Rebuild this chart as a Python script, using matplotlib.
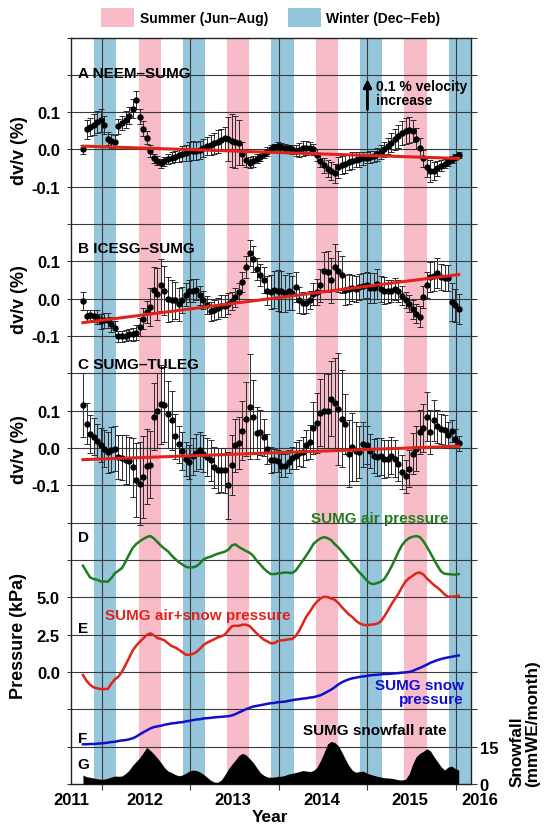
import numpy as np
import matplotlib
matplotlib.use("Agg")
import matplotlib.pyplot as plt
from matplotlib import transforms
from matplotlib.patches import Rectangle

plt.rcParams['font.family'] = ['Liberation Sans', 'DejaVu Sans']
plt.rcParams['font.weight'] = 'bold'

# sample dates (decimal years), shared by all series
dates = [2011.79, 2011.83, 2011.87, 2011.91, 2011.95, 2011.99,
         2012.03, 2012.07, 2012.11, 2012.15, 2012.19, 2012.23, 2012.27, 2012.31, 2012.35,
         2012.39, 2012.43, 2012.47, 2012.51, 2012.55, 2012.59, 2012.63, 2012.67, 2012.71, 2012.75,
         2012.79, 2012.83, 2012.87, 2012.91, 2012.95, 2012.99,
         2013.03, 2013.07, 2013.11, 2013.15, 2013.19, 2013.23, 2013.27, 2013.31, 2013.35,
         2013.39, 2013.43, 2013.47, 2013.51, 2013.55, 2013.59, 2013.63, 2013.67, 2013.71, 2013.75,
         2013.79, 2013.83, 2013.87, 2013.91, 2013.95, 2013.99,
         2014.03, 2014.07, 2014.11, 2014.15, 2014.19, 2014.23, 2014.27, 2014.31, 2014.35,
         2014.39, 2014.43, 2014.47, 2014.51, 2014.55, 2014.59, 2014.63, 2014.67, 2014.71, 2014.75,
         2014.79, 2014.83, 2014.87, 2014.91, 2014.95, 2014.99,
         2015.03, 2015.07, 2015.11, 2015.15, 2015.19, 2015.23, 2015.27, 2015.31, 2015.35,
         2015.39, 2015.43, 2015.47, 2015.51, 2015.55, 2015.59, 2015.63, 2015.67, 2015.71, 2015.75,
         2015.79, 2015.83, 2015.87, 2015.91, 2015.95, 2015.99, 2016.03]

# dv/v (%) NEEM-SUMG
dv_a = [0.0, 0.054, 0.060, 0.066, 0.073, 0.078, 0.066, 0.029, 0.023, 0.02,
        0.062, 0.071, 0.08, 0.091, 0.109, 0.133, 0.088, 0.056, 0.032, -0.004,
        -0.023, -0.03, -0.037, -0.032, -0.026, -0.022, -0.019, -0.015, -0.011, -0.009,
        -0.005, -0.003, -0.004, -0.001, 0.004, 0.009, 0.012, 0.017, 0.021, 0.026,
        0.03, 0.028, 0.024, 0.021, 0.018, -0.011, -0.027, -0.035, -0.032, -0.025,
        -0.019, -0.012, -0.006, 0.002, 0.006, 0.009, 0.007, 0.005, 0.003, 0.0,
        -0.003, -0.001, 0.003, 0.004, 0.004, 0.0, -0.015, -0.03, -0.042, -0.051,
        -0.058, -0.064, -0.048, -0.042, -0.038, -0.034, -0.03, -0.028, -0.026, -0.024,
        -0.022, -0.02, -0.018, -0.013, -0.007, 0.001, 0.009, 0.018, 0.027, 0.035,
        0.043, 0.05, 0.053, 0.05, 0.029, 0.005, -0.024, -0.048, -0.058, -0.058,
        -0.05, -0.044, -0.038, -0.033, -0.027, -0.019, -0.014]
err_a = [0.012, 0.025, 0.025, 0.028, 0.03, 0.03, 0.025, 0.018, 0.018, 0.018,
         0.02, 0.02, 0.022, 0.022, 0.025, 0.025, 0.02, 0.02, 0.018, 0.015,
         0.012, 0.012, 0.012, 0.012, 0.013, 0.015, 0.015, 0.018, 0.02, 0.022,
         0.025, 0.025, 0.025, 0.025, 0.025, 0.025, 0.028, 0.028, 0.03, 0.03,
         0.03, 0.06, 0.07, 0.07, 0.06, 0.03, 0.02, 0.015, 0.015, 0.012,
         0.012, 0.012, 0.012, 0.01, 0.01, 0.01, 0.01, 0.01, 0.01, 0.012,
         0.015, 0.018, 0.02, 0.02, 0.015, 0.015, 0.015, 0.018, 0.02, 0.022,
         0.025, 0.025, 0.028, 0.025, 0.025, 0.022, 0.022, 0.02, 0.02, 0.018,
         0.015, 0.015, 0.015, 0.018, 0.018, 0.02, 0.022, 0.025, 0.028, 0.03,
         0.032, 0.035, 0.035, 0.03, 0.028, 0.025, 0.022, 0.025, 0.03, 0.025,
         0.02, 0.015, 0.012, 0.01, 0.01, 0.008, 0.008]
trend_a = [0.009, -0.024]

# dv/v (%) ICESG-SUMG
dv_b = [-0.006, -0.046, -0.044, -0.046, -0.049, -0.06, -0.057, -0.058, -0.068, -0.079,
        -0.1, -0.101, -0.099, -0.095, -0.095, -0.091, -0.076, -0.054, -0.035, -0.022,
        0.024, 0.013, 0.036, 0.022, -0.001, -0.004, -0.004, -0.015, -0.003, 0.011,
        0.021, 0.022, 0.024, 0.009, -0.003, -0.017, -0.034, -0.03, -0.025, -0.02,
        -0.02, -0.013, -0.006, 0.004, 0.018, 0.045, 0.085, 0.123, 0.107, 0.08,
        0.063, 0.051, 0.022, 0.018, 0.024, 0.022, 0.02, 0.015, 0.02, 0.015,
        0.031, -0.003, -0.011, -0.012, -0.003, 0.013, 0.019, 0.036, 0.074, 0.072,
        0.049, 0.086, 0.074, 0.065, 0.024, 0.026, 0.029, 0.027, 0.031, 0.034,
        0.036, 0.03, 0.03, 0.039, 0.027, 0.022, 0.02, 0.021, 0.026, 0.021,
        0.008, -0.003, -0.013, -0.028, -0.04, -0.048, 0.004, 0.036, 0.058, 0.06,
        0.069, 0.058, 0.055, 0.056, -0.009, -0.018, -0.027]
err_b = [0.025, 0.015, 0.015, 0.015, 0.018, 0.02, 0.02, 0.02, 0.02, 0.02,
         0.015, 0.015, 0.015, 0.015, 0.018, 0.02, 0.025, 0.028, 0.03, 0.05,
         0.06, 0.07, 0.07, 0.065, 0.06, 0.055, 0.05, 0.045, 0.035, 0.03,
         0.03, 0.03, 0.028, 0.025, 0.025, 0.025, 0.025, 0.028, 0.028, 0.03,
         0.03, 0.028, 0.025, 0.025, 0.025, 0.028, 0.03, 0.035, 0.035, 0.03,
         0.03, 0.035, 0.04, 0.045, 0.05, 0.055, 0.055, 0.05, 0.05, 0.045,
         0.04, 0.035, 0.03, 0.025, 0.025, 0.03, 0.035, 0.045, 0.05, 0.055,
         0.06, 0.06, 0.055, 0.05, 0.04, 0.04, 0.035, 0.035, 0.035, 0.035,
         0.035, 0.04, 0.04, 0.04, 0.035, 0.035, 0.03, 0.03, 0.03, 0.03,
         0.025, 0.022, 0.022, 0.025, 0.025, 0.028, 0.03, 0.035, 0.04, 0.04,
         0.04, 0.035, 0.035, 0.035, 0.05, 0.045, 0.04]
trend_b = [-0.064, 0.065]

# dv/v (%) SUMG-TULEG
dv_c = [0.116, 0.065, 0.038, 0.031, 0.019, 0.008, -0.002, -0.011, -0.004, -0.002,
        -0.024, -0.026, -0.031, -0.035, -0.052, -0.086, -0.095, -0.077, -0.049, -0.045,
        0.084, 0.1, 0.117, 0.116, 0.09, 0.074, 0.032, 0.01, -0.008, -0.03,
        -0.037, -0.022, -0.012, -0.006, -0.015, -0.024, -0.033, -0.052, -0.06, -0.059,
        -0.06, -0.1, -0.046, 0.007, 0.014, 0.047, 0.078, 0.111, 0.083, 0.04,
        0.042, 0.029, -0.002, -0.031, -0.033, -0.035, -0.047, -0.047, -0.036, -0.026,
        -0.02, -0.013, -0.01, 0.009, 0.016, 0.053, 0.068, 0.095, 0.1, 0.099,
        0.132, 0.121, 0.105, 0.078, 0.065, -0.015, 0.003, -0.009, -0.011, 0.01,
        0.008, -0.008, -0.022, -0.024, -0.022, -0.029, -0.028, -0.02, -0.028, -0.044,
        -0.064, -0.076, -0.055, -0.015, -0.002, 0.043, 0.054, 0.084, 0.043, 0.074,
        0.058, 0.052, 0.049, 0.034, 0.045, 0.025, 0.013]
err_c = [0.085, 0.055, 0.05, 0.05, 0.045, 0.045, 0.05, 0.055, 0.06, 0.06,
         0.06, 0.06, 0.065, 0.065, 0.08, 0.1, 0.11, 0.11, 0.1, 0.09,
         0.09, 0.1, 0.105, 0.1, 0.09, 0.08, 0.06, 0.05, 0.05, 0.045,
         0.045, 0.05, 0.05, 0.05, 0.05, 0.05, 0.055, 0.055, 0.06, 0.06,
         0.06, 0.09, 0.08, 0.07, 0.07, 0.08, 0.1, 0.14, 0.1, 0.07,
         0.06, 0.05, 0.04, 0.035, 0.03, 0.03, 0.03, 0.03, 0.03, 0.03,
         0.035, 0.035, 0.04, 0.04, 0.045, 0.07, 0.08, 0.09, 0.1, 0.1,
         0.1, 0.12, 0.15, 0.13, 0.08, 0.09, 0.09, 0.08, 0.07, 0.06,
         0.05, 0.045, 0.045, 0.05, 0.05, 0.05, 0.05, 0.05, 0.05, 0.045,
         0.045, 0.045, 0.05, 0.055, 0.06, 0.06, 0.065, 0.065, 0.06, 0.055,
         0.045, 0.04, 0.04, 0.035, 0.03, 0.025, 0.02]
trend_c = [-0.031, 0.005]

# pressures (kPa, on the shared display scale)
air_p = [7.12, 6.72, 6.34, 6.23, 6.18, 6.07, 6.07, 6.05, 6.29, 6.61,
         6.79, 6.96, 7.39, 7.86, 8.3, 8.57, 8.75, 8.91, 9.04, 9.11,
         8.95, 8.71, 8.46, 8.26, 8.08, 7.81, 7.57, 7.37, 7.21, 7.05,
         7.01, 7.01, 7.08, 7.28, 7.54, 7.66, 7.72, 7.83, 7.92, 7.99,
         8.06, 8.19, 8.48, 8.55, 8.37, 8.24, 8.1, 7.99, 7.79, 7.46,
         7.21, 6.94, 6.72, 6.56, 6.56, 6.61, 6.63, 6.67, 6.65, 6.63,
         6.79, 7.12, 7.46, 7.81, 8.17, 8.57, 8.79, 8.95, 9.04, 8.97,
         8.84, 8.57, 8.35, 8.08, 7.79, 7.52, 7.23, 6.96, 6.67, 6.43,
         6.14, 5.94, 5.89, 5.96, 6.05, 6.23, 6.61, 7.05, 7.54, 8.06,
         8.5, 8.79, 8.97, 9.06, 9.11, 9.04, 8.77, 8.39, 7.97, 7.54,
         7.12, 6.74, 6.58, 6.56, 6.54, 6.52, 6.56]
air_snow_p = [-0.2, -0.58, -0.85, -1.03, -1.09, -1.14, -1.14, -1.14, -0.78, -0.49,
              -0.31, 0.02, 0.47, 0.94, 1.43, 1.76, 2.01, 2.25, 2.48, 2.59,
              2.46, 2.28, 2.21, 2.12, 1.92, 1.74, 1.65, 1.5, 1.34, 1.16,
              1.16, 1.21, 1.34, 1.56, 1.81, 1.96, 2.08, 2.19, 2.32, 2.39,
              2.5, 2.79, 3.06, 3.1, 3.1, 3.17, 3.17, 3.08, 2.83, 2.59,
              2.37, 2.17, 2.05, 1.92, 1.94, 2.08, 2.12, 2.14, 2.19, 2.21,
              2.41, 2.77, 3.24, 3.71, 4.04, 4.42, 4.71, 4.93, 5.04, 5.02,
              4.93, 4.84, 4.64, 4.35, 4.11, 3.86, 3.68, 3.44, 3.26, 3.17,
              3.13, 3.17, 3.19, 3.24, 3.39, 3.73, 4.11, 4.53, 4.89, 5.25,
              5.69, 6.07, 6.29, 6.45, 6.61, 6.67, 6.54, 6.27, 6.05, 5.83,
              5.65, 5.45, 5.2, 5.04, 5.04, 5.07, 5.11]
snow_p = [-4.84, -4.84, -4.82, -4.82, -4.8, -4.78, -4.76, -4.73, -4.69, -4.67,
          -4.62, -4.58, -4.56, -4.51, -4.44, -4.33, -4.18, -4.04, -3.91, -3.78,
          -3.69, -3.64, -3.6, -3.53, -3.49, -3.44, -3.42, -3.38, -3.36, -3.31,
          -3.27, -3.22, -3.18, -3.16, -3.11, -3.09, -3.07, -3.04, -3.02, -3.0,
          -2.98, -2.96, -2.91, -2.82, -2.71, -2.6, -2.49, -2.4, -2.31, -2.27,
          -2.22, -2.18, -2.13, -2.09, -2.07, -2.02, -2.0, -1.98, -1.93, -1.89,
          -1.84, -1.82, -1.78, -1.76, -1.71, -1.69, -1.62, -1.56, -1.44, -1.31,
          -1.18, -1.02, -0.84, -0.69, -0.58, -0.49, -0.42, -0.38, -0.33, -0.29,
          -0.27, -0.22, -0.2, -0.18, -0.16, -0.13, -0.13, -0.11, -0.09, -0.07,
          -0.04, -0.02, 0.0, 0.07, 0.18, 0.27, 0.38, 0.49, 0.62, 0.71,
          0.8, 0.87, 0.93, 0.98, 1.02, 1.07, 1.11]
# snowfall rate (mmWE/month)
snowfall = [3.6, 2.9, 2.7, 2.4, 2.1, 1.9, 2.0, 2.3, 2.8, 3.2,
            3.1, 3.2, 4.2, 5.5, 7.5, 9.0, 10.6, 12.6, 14.7, 13.5,
            12.1, 10.4, 8.6, 6.6, 5.2, 4.6, 3.8, 3.3, 3.6, 4.3,
            5.2, 5.6, 5.4, 4.8, 3.9, 2.7, 1.5, 0.8, 0.7, 1.6,
            3.6, 6.0, 7.9, 9.6, 11.5, 12.3, 11.7, 10.2, 8.7, 6.6,
            4.6, 3.5, 2.8, 2.7, 2.8, 3.1, 3.1, 3.5, 4.0, 4.3,
            4.6, 5.0, 5.4, 5.2, 5.0, 5.4, 6.7, 9.4, 12.6, 16.1,
            17.1, 16.7, 15.4, 12.9, 10.0, 7.4, 5.5, 4.7, 5.0, 5.2,
            4.4, 3.9, 3.5, 3.1, 2.8, 2.5, 2.4, 2.3, 2.0, 1.7,
            1.6, 1.9, 4.0, 8.0, 11.0, 12.3, 13.1, 14.2, 13.3, 11.0,
            9.0, 7.0, 5.6, 6.8, 7.2, 6.2, 5.6]

year_lines = [2012, 2013, 2014, 2015, 2016]
summer_years = [2012, 2013, 2014, 2015]
winter_years = [2012, 2013, 2014, 2015, 2016]
year_labels = ['2011', '2012', '2013', '2014', '2015', '2016']
left_labels = {3: '0.0', 4: '2.5', 5: '5.0',
               8: '-0.1', 9: '0.0', 10: '0.1',
               12: '-0.1', 13: '0.0', 14: '0.1',
               16: '-0.1', 17: '0.0', 18: '0.1'}

pink = '#f8bcc8'
blue = '#95c6dc'
grid_c = '#3a3a3a'

t = np.array(dates)
W, H = 544, 829
fig = plt.figure(figsize=(W / 100, H / 100), dpi=100)
ax = fig.add_axes([71 / W, 44 / H, (470.7 - 71) / W, (785 - 38.5) / H])
x0, x1 = 2011.655, 2016.165
ax.set_xlim(x0, x1)
ax.set_ylim(0, 20)

for y in summer_years:
    ax.axvspan(y + 5 / 12, y + 8 / 12, color=pink, lw=0, zorder=0)
for y in winter_years:
    ax.axvspan(y - 1 / 12, y + 2 / 12, color=blue, lw=0, zorder=0)
for y in range(1, 20):
    ax.axhline(y, color=grid_c, lw=0.8, zorder=1)
for y in year_lines:
    ax.axvline(y, color=grid_c, lw=0.8, zorder=1)

# dv/v panels
for dv, err, tr, base in [(dv_a, err_a, trend_a, 17), (dv_b, err_b, trend_b, 13), (dv_c, err_c, trend_c, 9)]:
    ax.errorbar(t, base + 10 * np.array(dv), yerr=10 * np.array(err), fmt='o', ms=3.6,
                mfc='black', mec='black', ecolor='#2a2a2a', elinewidth=0.7,
                capsize=2, capthick=0.7, zorder=3)
    ax.plot([t[0], t[-1]], [base + 10 * tr[0], base + 10 * tr[1]], color='#e2231a', lw=2.2, zorder=4)

# pressures and snowfall
ax.plot(t, 3 + np.array(air_p) / 2.5, color='#1f7d1f', lw=1.8, zorder=3)
ax.plot(t, 3 + np.array(air_snow_p) / 2.5, color='#e2231a', lw=1.8, zorder=3)
ax.plot(t, 3 + np.array(snow_p) / 2.5, color='#1010cc', lw=1.8, zorder=3)
ax.fill_between(t, 0, np.array(snowfall) / 15, color='black', lw=0, zorder=3)

# ticks
ax.set_yticks(range(0, 21))
ax.set_yticklabels([left_labels.get(k, '') for k in range(21)], fontsize=12, fontweight='bold')
ax.tick_params(axis='y', direction='out', length=3, width=0.8, pad=5, color=grid_c)
ax.set_xticks(year_lines)
ax.set_xticklabels([])
ax.tick_params(axis='x', direction='out', length=4, width=0.8, color=grid_c)
for s in ax.spines.values():
    s.set_linewidth(1.0)
    s.set_color('#222222')

ax2 = ax.twinx()
ax2.set_ylim(0, 20)
ax2.set_yticks(range(0, 21))
ax2.set_yticklabels(['0', '15'] + [''] * 19, fontsize=12, fontweight='bold')
ax2.tick_params(axis='y', direction='out', length=4, width=0.8, pad=2.5, color=grid_c)
for s in ax2.spines.values():
    s.set_visible(False)

# year labels
bt = transforms.blended_transform_factory(ax.transData, fig.transFigure)
for xp, lab in zip([x0, 2012.49, 2013.48, 2014.49, 2015.48, 2016.27], year_labels):
    ax.text(xp, 1 - 801 / H, lab, transform=bt, ha='center', va='center', fontsize=12, clip_on=False)
fig.text(0.497, 1 - 818 / H, 'Year', ha='center', va='center', fontsize=12.5)

# axis labels
lt = transforms.blended_transform_factory(fig.transFigure, ax.transData)
for yc in [17, 13, 9]:
    ax.text(20 / W, yc, 'dv/v (%)', transform=lt, rotation=90, ha='center', va='center', fontsize=13)
ax.text(19 / W, 4.0, 'Pressure (kPa)', transform=lt, rotation=90, ha='center', va='center', fontsize=13)
ax.text(525 / W, -0.06, 'Snowfall\n(mmWE/month)', transform=lt, rotation=90, ha='center',
        va='bottom', multialignment='left', fontsize=12.3, linespacing=1.05, clip_on=False)

# panel letters
xl = 2011.73
ax.text(xl, 18.93, 'A NEEM–SUMG', fontsize=11, va='baseline', zorder=6)
ax.text(xl, 14.26, 'B ICESG–SUMG', fontsize=11, va='baseline', zorder=6)
ax.text(xl, 11.15, 'C SUMG–TULEG', fontsize=11, va='baseline', zorder=6)
ax.text(xl, 6.52, 'D', fontsize=11, va='baseline', zorder=6)
ax.text(xl, 4.06, 'E', fontsize=11, va='baseline', zorder=6)
ax.text(xl, 1.13, 'F', fontsize=11, va='baseline', zorder=6)
ax.text(xl, 0.42, 'G', fontsize=11, va='baseline', zorder=6)

ax.text(2014.363, 7.02, 'SUMG air pressure', color='#1f7d1f', fontsize=11, va='baseline', zorder=6)
ax.text(2012.042, 4.42, 'SUMG air+snow pressure', color='#e2231a', fontsize=11, va='baseline', zorder=6)
ax.text(2016.09, 2.84, 'SUMG snow\npressure', color='#1010cc', fontsize=11, ha='right',
        va='top', multialignment='right', linespacing=1.0, zorder=6)
ax.text(2014.276, 1.34, 'SUMG snowfall rate', color='black', fontsize=11, va='baseline', zorder=6)

# velocity arrow
ax.annotate('', xy=(2015.0, 18.96), xytext=(2015.0, 18.0),
            arrowprops=dict(arrowstyle='-|>', color='black', lw=2, mutation_scale=12), zorder=6)
ax.text(2015.094, 18.9, '0.1 % velocity\nincrease', fontsize=10, va='top', ha='left',
        linespacing=1.0, zorder=6)

# season legend
fig.patches.append(Rectangle((100.6 / W, 1 - 27.7 / H), 33 / W, 19 / H, transform=fig.transFigure,
                             facecolor=pink, edgecolor='none'))
fig.text(140.5 / W, 1 - 18.5 / H, 'Summer (Jun–Aug)', ha='left', va='center', fontsize=10)
fig.patches.append(Rectangle((288 / W, 1 - 27.7 / H), 33 / W, 19 / H, transform=fig.transFigure,
                             facecolor=blue, edgecolor='none'))
fig.text(326 / W, 1 - 18.5 / H, 'Winter (Dec–Feb)', ha='left', va='center', fontsize=10)

fig.savefig('out.png', dpi=100)
